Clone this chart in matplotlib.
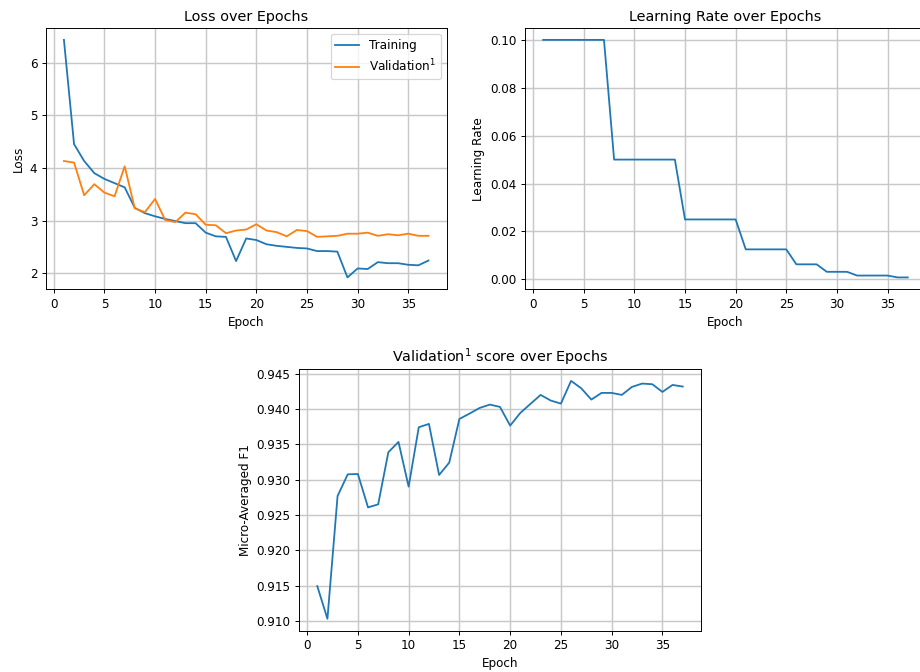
import matplotlib
matplotlib.use('Agg')
import matplotlib.pyplot as plt

# Data
epochs = list(range(1, 38))
train_loss = [6.43, 4.45, 4.13, 3.90, 3.79, 3.71, 3.63, 3.24, 3.14, 3.08,
              3.03, 2.99, 2.95, 2.95, 2.77, 2.70, 2.69, 2.23, 2.66, 2.63,
              2.55, 2.52, 2.50, 2.48, 2.47, 2.42, 2.42, 2.41, 1.92, 2.09,
              2.08, 2.21, 2.19, 2.19, 2.16, 2.15, 2.24]
val_loss = [4.13, 4.10, 3.48, 3.69, 3.53, 3.46, 4.03, 3.23, 3.16, 3.41,
            3.01, 2.97, 3.15, 3.12, 2.92, 2.91, 2.76, 2.81, 2.83, 2.93,
            2.81, 2.78, 2.70, 2.82, 2.80, 2.69, 2.70, 2.71, 2.75, 2.75,
            2.77, 2.71, 2.74, 2.72, 2.75, 2.71, 2.71]
learning_rate = [0.1] * 7 + [0.05] * 7 + [0.025] * 6 + [0.0125] * 5 + \
    [0.00625] * 3 + [0.003125] * 3 + [0.0015625] * 4 + [0.00078125] * 2
val_f1 = [0.91495, 0.91033, 0.92769, 0.93075, 0.93080, 0.92608, 0.92651,
          0.93387, 0.93533, 0.92901, 0.93741, 0.93788, 0.93066, 0.93241,
          0.93858, 0.93934, 0.94014, 0.94061, 0.94028, 0.93764, 0.93943,
          0.94071, 0.94198, 0.94118, 0.94075, 0.94396, 0.94292, 0.94132,
          0.94226, 0.94226, 0.94198, 0.94311, 0.94358, 0.94349, 0.94240,
          0.94339, 0.94316]

W, H = 920, 672
DPI = 86.4
fig = plt.figure(figsize=(W / DPI, H / DPI), dpi=DPI)
grid_kw = dict(color='#c8c8c8', linewidth=1.2)


def box(left, top, right, bottom):
    return [left / W, 1 - bottom / H, (right - left) / W, (bottom - top) / H]


# Loss
ax1 = fig.add_axes(box(45.7, 28, 446.7, 289.3))
ax1.plot(epochs, train_loss, label='Training')
ax1.plot(epochs, val_loss, label='Validation$^1$')
ax1.set_title('Loss over Epochs')
ax1.set_xlabel('Epoch')
ax1.set_ylabel('Loss')
ax1.legend(loc='upper right')
ax1.grid(**grid_kw)

# Learning rate
ax2 = fig.add_axes(box(525, 28, 926, 289.3))
ax2.plot(epochs, learning_rate)
ax2.set_title('Learning Rate over Epochs')
ax2.set_xlabel('Epoch')
ax2.set_ylabel('Learning Rate')
ax2.grid(**grid_kw)

# F1
ax3 = fig.add_axes(box(299, 369, 701, 630.7))
ax3.plot(epochs, val_f1)
ax3.set_title('Validation$^1$ score over Epochs')
ax3.set_xlabel('Epoch')
ax3.set_ylabel('Micro-Averaged F1')
ax3.grid(**grid_kw)

fig.savefig('out.png', dpi=DPI)
